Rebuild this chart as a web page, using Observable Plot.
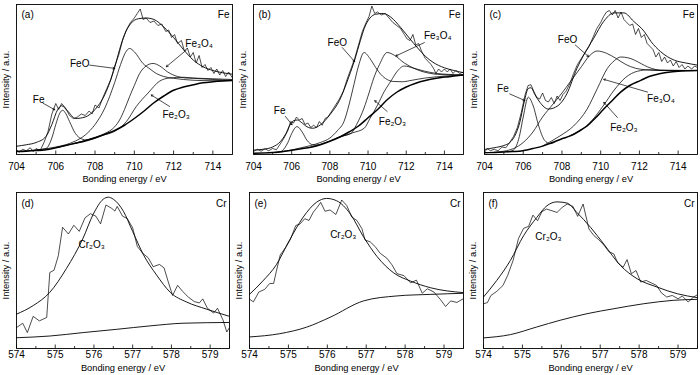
<!DOCTYPE html>
<html><head><meta charset="utf-8">
<script src="https://cdn.jsdelivr.net/npm/d3@7"></script>
<script src="https://cdn.jsdelivr.net/npm/@observablehq/plot@0.6"></script>
<style>
body{margin:0;background:#fff;}
#wrap{position:relative;width:700px;height:375px;overflow:hidden;background:#fff;}
#wrap svg{position:absolute;overflow:visible;}
</style></head><body><div id="wrap"></div>
<script>
// ---------- tick labels ----------
const feTicks = [704, 706, 708, 710, 712, 714];
const feMinor = [705, 707, 709, 711, 713];
const crTicks = [574, 575, 576, 577, 578, 579];
const crMinor = [574.5, 575.5, 576.5, 577.5, 578.5, 579.5];

// ---------- panel (a) Fe 2p ----------
const a_data = [[704,3],[704.15,1.5],[704.3,3.5],[704.5,2.5],[704.7,4.5],[704.85,2],[705,4],[705.2,2.5],[705.4,8],[705.6,15],[705.8,27],[706,34],[706.15,30],[706.3,34],[706.5,31],[706.7,26],[706.9,24],[707.1,25],[707.3,27],[707.5,26],[707.7,29],[707.85,27],[708,33],[708.2,31],[708.4,38],[708.6,44],[708.8,50],[709,59],[709.2,66],[709.4,76],[709.6,83],[709.8,88],[710,91],[710.15,94],[710.3,97],[710.45,90],[710.6,91],[710.8,88],[711,89],[711.2,86],[711.4,87],[711.6,82],[711.75,83],[711.9,78],[712.05,80],[712.2,74],[712.4,76],[712.55,69],[712.7,71],[712.85,65],[713,68],[713.15,61],[713.3,66],[713.45,58],[713.6,60],[713.75,56],[713.9,58],[714.05,54],[714.2,57],[714.35,53],[714.5,56],[714.65,52],[714.8,55],[715,51]];
const a_fit = [[704,5.5],[704.5,6.5],[705,8],[705.5,12],[705.8,20],[706.1,30],[706.3,32.5],[706.6,29],[707,24],[707.5,25],[708,30],[708.5,40],[709,58],[709.25,70],[709.5,80],[709.8,87],[710.2,90.5],[710.6,91],[711,90],[711.5,85],[712,78],[712.5,70],[713,63],[713.5,58.5],[714,56],[714.5,54.5],[715,53.5]];
const a_bg = [[704,2],[704.5,2.2],[705,2.6],[705.5,3.2],[706,4.5],[706.5,6],[707,7.5],[707.5,9],[708,11],[708.5,13.5],[709,16],[709.5,19.5],[710,24],[710.5,29],[711,34.5],[711.5,39],[712,42.8],[712.5,45],[713,46.5],[713.5,47.8],[714,48.5],[714.5,49],[715,49.3]];
const a_fe = [[705,3],[705.5,4],[705.8,11],[706,20],[706.2,27.5],[706.35,29.5],[706.5,27.5],[706.7,22],[707,14],[707.3,10.5],[707.6,9.6],[708,11]];
const a_feo = [[704,2.2],[705,3],[705.5,3.8],[706,5],[706.5,6.5],[707,9],[707.5,13],[708,20],[708.5,31],[709,48],[709.3,60],[709.55,68],[709.76,70.7],[710,68.5],[710.44,60.7],[710.8,57],[711.12,54],[711.5,52],[712,50.8],[712.5,50],[713,49.5],[714,49.2],[715,49.3]];
const a_fe3o4 = [[706,4.5],[707,7.6],[708,11.5],[708.5,14],[709,18.5],[709.25,23],[709.5,30],[709.76,38.6],[710,46],[710.27,54],[710.6,59],[710.95,60.7],[711.3,59],[711.7,55],[712.2,52],[712.6,51],[713,50.8],[714,50],[715,49.5]];
const a_fe2o3 = [[707,7.5],[708,11.2],[708.5,13.2],[708.9,14.8],[709.6,22],[710.1,32],[710.7,41],[711.3,49],[711.8,51],[712.5,51.5],[713,51],[714,50.5],[715,50]];
const a_labels = [{t:"Fe",x:705.13,y:36.4},{t:"FeO",x:707.22,y:60.7},{t:"Fe₃O₄",x:713.3,y:74},{t:"Fe₂O₃",x:712.13,y:26.5}];
const a_arrows = [[705.35,34.2,705.95,29.8],[707.73,59.6,709.0,57.4],[712.64,69.5,711.63,58.5],[711.8,32,710.86,39.7]];

// ---------- panel (b) Fe 2p ----------
const b_data = [[704,2],[704.2,3.5],[704.4,2.2],[704.6,3.8],[704.8,2.5],[705,4],[705.2,3.2],[705.4,7],[705.6,11],[705.8,16],[705.95,22],[706.1,21],[706.25,25],[706.4,23],[706.55,24],[706.7,20],[706.85,21],[707,18],[707.15,19.5],[707.3,18],[707.45,22],[707.6,19.5],[707.75,24],[707.9,25],[708.1,29],[708.3,33],[708.5,37],[708.7,42],[708.9,50],[709.1,57],[709.3,64],[709.5,73],[709.7,82],[709.9,88],[710.05,92],[710.2,99],[710.35,94],[710.5,95],[710.7,93],[710.9,94],[711.1,91],[711.3,88],[711.5,86],[711.7,84],[711.9,80],[712.05,77],[712.2,76],[712.35,80],[712.5,73],[712.65,74],[712.8,69],[713,64],[713.15,62],[713.3,60],[713.45,57],[713.55,54],[713.7,57],[713.85,55],[714,57],[714.15,55],[714.3,57],[714.45,54],[714.6,56],[714.8,54],[715,55]];
const b_fit = [[704,2.9],[704.5,3.5],[705,5],[705.4,8.5],[705.7,14],[705.9,19.5],[706.1,22.5],[706.3,23],[706.5,21.5],[706.8,18.5],[707.1,17.5],[707.5,19.7],[708,26.5],[708.5,36],[709,52],[709.3,63],[709.6,76],[709.8,84],[710.1,91],[710.4,93.5],[710.8,94],[711.2,91.5],[711.7,84.8],[712.2,77],[712.6,71],[713,65.5],[713.4,61.5],[714,57.8],[714.5,56],[715,54.5]];
const b_bg = [[704,0.8],[705,1.3],[705.5,1.8],[706,2.8],[706.5,3.8],[707,4.8],[707.5,6.5],[708,8.8],[708.5,11.5],[709,15],[709.5,19],[710,24.5],[710.5,30],[711,36.5],[711.5,41.5],[712,45],[712.5,47.5],[713,49.3],[713.5,50.6],[714,51.6],[714.5,52.3],[715,53]];
const b_fe = [[705.2,1.2],[705.5,2.5],[705.8,8],[706,14],[706.28,18.6],[706.55,15],[706.8,9.5],[707.1,6.5],[707.4,6.3]];
const b_feo = [[705,1.3],[706,3],[706.5,4.5],[707,6],[707.5,8],[708,11],[708.4,16],[708.74,22],[709,33],[709.26,46.6],[709.5,59],[709.79,68],[710.1,64],[710.4,58],[710.67,53.4],[711,50],[711.3,48.7],[711.8,48.5],[712.3,49.5],[713,51],[714,52.2],[715,53]];
const b_fe3o4 = [[707,5],[708,9],[708.5,11.8],[709.1,14],[709.4,20],[709.79,31],[710.05,41],[710.3,51],[710.6,60],[711,68],[711.4,66],[711.9,61],[712.4,57.5],[712.77,55.6],[713.2,54.2],[713.65,53.4],[714.5,53],[715,53]];
const b_fe2o3 = [[708.5,11.5],[709.2,14.5],[709.8,17.5],[710.1,24],[710.5,33],[710.85,42],[711.2,49],[711.5,55],[711.9,59],[712.4,57.5],[712.95,55.6],[713.5,54.2],[714.2,53.4],[715,53]];
const b_labels = [{t:"Fe",x:705.37,y:29.2},{t:"FeO",x:708.39,y:74.6},{t:"Fe₃O₄",x:713.65,y:79.2},{t:"Fe₂O₃",x:711.28,y:22}];
const b_arrows = [[705.67,25.4,706.02,19.8],[708.65,71.3,709.3,61.9],[712.95,74.6,711.46,65.7],[711.0,28.7,710.35,35.9]];

// ---------- panel (c) Fe 2p ----------
const c_data = [[704,1.5],[704.15,4],[704.3,2.5],[704.5,3.5],[704.7,2.5],[704.9,5],[705.1,4.5],[705.3,8],[705.5,12],[705.7,18],[705.9,28],[706.1,40],[706.25,46],[706.4,46.5],[706.55,42],[706.7,38],[706.85,37],[707,41],[707.15,36],[707.3,35],[707.45,38],[707.6,34],[707.75,39],[707.9,36],[708.05,40],[708.2,42],[708.4,47],[708.6,54],[708.8,60],[709,64],[709.2,68],[709.4,72],[709.6,78],[709.8,84],[710,88],[710.15,92],[710.3,95],[710.45,96],[710.6,93],[710.75,96],[710.9,91],[711.05,95],[711.2,90],[711.35,88],[711.5,86],[711.65,87],[711.8,80],[711.95,84],[712.1,78],[712.25,80],[712.4,74],[712.55,72],[712.7,70],[712.85,65],[713,68],[713.15,62],[713.3,65],[713.45,61],[713.6,63],[713.75,59],[713.9,62],[714.05,58],[714.2,60],[714.35,57],[714.5,59],[714.7,57],[714.85,59],[715,58]];
const c_fit = [[704,3.4],[704.5,4.5],[705,6],[705.3,7.9],[705.55,12],[705.82,21.3],[706.05,35],[706.26,44],[706.4,44.5],[706.6,40],[706.86,34.8],[707.3,30.3],[707.8,32.6],[708.25,40.4],[708.77,57.3],[709.12,66.3],[709.64,77.5],[710.16,88.8],[710.68,94.4],[711.2,94.4],[711.7,88.8],[712.25,82],[712.6,75.3],[713.1,68.5],[713.8,62.9],[714.4,61],[715,59.6]];
const c_bg = [[704,1.1],[704.5,1.4],[705,1.7],[705.5,2],[705.8,2.2],[706.5,4],[707,5.6],[707.5,8],[708,10.5],[708.43,12.4],[709,16.5],[709.3,19],[709.7,24],[710.16,30.3],[710.6,36],[711.03,41.6],[711.5,46],[712.07,49.4],[712.5,52],[713.1,54],[713.5,54.9],[714,55.5],[714.5,55.8],[715,56]];
const c_fe = [[705.2,1.8],[705.5,3],[705.8,12],[706,25],[706.26,38.2],[706.5,33],[706.8,19],[707.1,9.5],[707.4,7.2],[707.6,8]];
const c_feo = [[704.5,1.5],[705,2.2],[705.5,4],[706,8],[706.5,15],[707,25],[707.5,33],[708,41],[708.43,48.5],[709,58.5],[709.4,65.5],[709.82,69],[710.3,67.5],[710.8,64],[711.3,60],[711.8,57.5],[712.3,56.5],[713,56],[714,56],[715,56]];
const c_fe3o4 = [[707,5.7],[707.9,12.4],[708.6,19],[709.3,30.3],[709.82,43.8],[710.34,57.3],[710.7,62.5],[711.03,65],[711.4,64.5],[711.73,63],[712.1,60.5],[712.42,58.4],[712.8,56.8],[713.1,56],[714,55.8],[715,56]];
const c_fe2o3 = [[708.4,12.5],[709,16.5],[709.5,22],[710.16,33],[710.7,43],[711.3,51.5],[711.9,55.5],[712.5,56.5],[713.5,56.2],[715,56]];
const c_labels = [{t:"Fe",x:704.95,y:43.8},{t:"FeO",x:708.29,y:76.4},{t:"Fe₃O₄",x:713.11,y:37.1},{t:"Fe₂O₃",x:711.2,y:18}];
const c_arrows = [[705.3,40.4,706.08,36],[708.69,73,709.38,65.2],[712.42,41.6,710.16,50.1],[710.86,24.7,710.16,34.8]];

// ---------- panel (d) Cr 2p ----------
const d_data = [[574,13.4],[574.16,16.2],[574.28,10.2],[574.43,20.6],[574.59,17.7],[574.78,19.9],[574.86,48.7],[574.97,50.2],[575.08,59.5],[575.19,77.7],[575.34,73.4],[575.48,79],[575.62,75.1],[575.77,83.8],[575.91,86.4],[576.05,84.8],[576.17,79.9],[576.31,92],[576.46,89.8],[576.54,88.1],[576.6,91.1],[576.74,84.8],[576.86,83.3],[577,77.3],[577.12,65.4],[577.26,61],[577.4,58.2],[577.53,52.4],[577.69,53.9],[577.81,51.7],[577.92,42.6],[578.03,34],[578.16,40.5],[578.29,36.6],[578.44,32.9],[578.59,30.1],[578.72,29.2],[578.81,31.8],[578.93,25.8],[579.09,22.7],[579.19,25.8],[579.33,18.4],[579.43,10.6],[579.5,13.4]];
const d_fit = [[574,22],[574.43,27.5],[574.86,36],[575.29,51.3],[575.72,70.8],[575.98,86],[576.24,95.7],[576.37,97],[576.5,95.7],[576.76,88],[577,75],[577.28,60],[577.62,47],[577.97,36],[578.4,29.7],[578.9,25.3],[579.5,20.6]];
const d_bg = [[574,6.9],[574.86,8],[575.72,10.2],[576.59,12.3],[577.45,14.5],[578.3,16.2],[579.5,16.7]];
const d_labels = [{t:"Cr₂O₃",x:575.94,y:66.5}];

// ---------- panel (e) Cr 2p ----------
const e_data = [[574,31.6],[574.1,29.9],[574.24,36.2],[574.39,37.9],[574.52,41.7],[574.62,41.7],[574.69,49.5],[574.79,60],[574.93,64.8],[575.05,69.9],[575.19,78.9],[575.29,79.6],[575.42,83.2],[575.53,82.1],[575.64,87.4],[575.74,90.5],[575.83,93.7],[575.94,88],[576.07,88.8],[576.22,85.9],[576.37,95.2],[576.5,91.6],[576.63,84.2],[576.76,82.1],[576.89,76.8],[576.97,69.5],[577.1,68.4],[577.23,65.3],[577.36,61],[577.53,57.9],[577.66,53.7],[577.79,48],[577.97,46.7],[578.14,42.1],[578.29,43.8],[578.44,35.4],[578.57,38.3],[578.74,36.2],[578.9,31.6],[579.04,26.9],[579.17,30.5],[579.33,29.5],[579.5,32]];
const e_fit = [[574,34.7],[574.34,43.2],[574.69,53.7],[575.03,69.5],[575.38,84.2],[575.72,93.7],[575.98,96.2],[576.24,94.7],[576.59,86.3],[576.93,71.6],[577.28,58.9],[577.71,48.4],[578.14,43.2],[578.66,38.9],[579.5,35.8]];
const e_bg = [[574,7.4],[574.78,9.5],[575.47,13.7],[576.07,20],[576.93,30.5],[577.79,33.7],[578.66,34.7],[579.5,35.4]];
const e_labels = [{t:"Cr₂O₃",x:576.41,y:72.6}];

// ---------- panel (f) Cr 2p ----------
const f_data = [[574,28.7],[574.1,29.4],[574.19,34],[574.34,36.6],[574.5,40.4],[574.62,46.8],[574.76,56.4],[574.9,70.6],[575.03,77],[575.16,78.3],[575.27,85.5],[575.39,81.9],[575.5,87.7],[575.62,89.4],[575.76,88.3],[575.89,87.2],[576.02,90.4],[576.15,92.6],[576.3,91.1],[576.42,84.7],[576.56,92.6],[576.71,76.6],[576.84,72.3],[576.96,69.8],[577.09,66.4],[577.22,62.1],[577.35,60.6],[577.45,54.9],[577.59,52.1],[577.69,57],[577.8,47.9],[577.92,50],[578.04,42.6],[578.18,43.6],[578.31,42.1],[578.45,40.4],[578.57,35.7],[578.71,33],[578.85,34],[579,31.9],[579.11,33.6],[579.26,29.8],[579.4,33],[579.5,34.5]];
const f_fit = [[574,33],[574.34,43.6],[574.69,56.4],[575.03,72.3],[575.37,84],[575.63,91.5],[575.89,94],[576.15,93.2],[576.4,87.2],[576.75,77.7],[577.09,67],[577.52,53.2],[577.95,44.7],[578.46,39.4],[578.98,35.1],[579.5,32.6]];
const f_bg = [[574,6.8],[574.69,8.9],[575.37,13.8],[575.97,18.1],[576.66,22.3],[577.35,25.5],[578.12,28.7],[578.89,30.9],[579.5,31.5]];
const f_labels = [{t:"Cr₂O₃",x:575.67,y:71.3}];

// ---------- drawing ----------
const FONT = "'Liberation Sans', Arial, Helvetica, sans-serif";
const wrap = document.getElementById("wrap");

function drawPanel(p) {
  const ml = 24, mr = 6, mt = 6, mb = 40;
  const iw = p.x1 - p.x0, ih = p.y1 - p.y0;
  const L = (d) => d[0], Y = (d) => d[1];
  const marks = [];
  const thin = {x: L, y: Y, stroke: "#000", strokeWidth: 0.75, curve: "monotone-x", clip: true};
  for (const s of p.comps) marks.push(Plot.line(s, thin));
  marks.push(Plot.line(p.bg, {...thin, strokeWidth: p.bgWidth}));
  marks.push(Plot.line(p.fit, {...thin, strokeWidth: 0.9}));
  marks.push(Plot.line(p.data, {x: L, y: Y, stroke: "#000", strokeWidth: 0.7, clip: true}));
  if (p.arrows) marks.push(Plot.arrow(p.arrows, {x1: d => d[0], y1: d => d[1], x2: d => d[2], y2: d => d[3], stroke: "#000", strokeWidth: 0.7, headLength: 4}));
  marks.push(Plot.text(p.labels, {x: "x", y: "y", text: "t", fontSize: p.labelSize, fill: "#000"}));
  marks.push(Plot.frame({stroke: "#000", strokeWidth: 0.9}));
  marks.push(Plot.ruleX(p.major, {x: d => d, insetTop: ih - 3.5, stroke: "#000", strokeWidth: 0.8}));
  marks.push(Plot.ruleX(p.minor, {x: d => d, insetTop: ih - 2, stroke: "#000", strokeWidth: 0.8}));
  marks.push(Plot.axisX({ticks: p.major, tickSize: 0, tickPadding: p.pad, fontSize: 10, label: null, tickFormat: d => String(d)}));
  marks.push(Plot.text(["Bonding energy / eV"], {text: d => d, frameAnchor: "bottom", dy: p.title, lineAnchor: "middle", fontSize: 9.3}));
  marks.push(Plot.text(["Intensity / a.u."], {text: d => d, frameAnchor: "left", dx: -10, rotate: -90, textAnchor: "middle", lineAnchor: "middle", fontSize: 9.3}));
  marks.push(Plot.text([`(${p.id})`], {text: d => d, frameAnchor: "top-left", dx: 5, dy: p.cornerDy, textAnchor: "start", lineAnchor: "middle", fontSize: 10}));
  marks.push(Plot.text([p.elem], {text: d => d, frameAnchor: "top-right", dx: -3, dy: p.cornerDy, textAnchor: "end", lineAnchor: "middle", fontSize: 10}));
  const svg = Plot.plot({
    width: iw + ml + mr, height: ih + mt + mb,
    marginLeft: ml, marginRight: mr, marginTop: mt, marginBottom: mb,
    x: {domain: p.dom},
    y: {domain: [0, 100], axis: null},
    style: {fontFamily: FONT, color: "#000", background: "transparent", overflow: "visible"},
    marks
  });
  svg.style.left = (p.x0 - ml) + "px";
  svg.style.top = (p.y0 - mt) + "px";
  wrap.appendChild(svg);
}

const feDom = [704, 715], crDom = [574, 579.5];
const topRow = {y0: 4, y1: 154, pad: 8, title: 25, cornerDy: 10, major: feTicks, minor: feMinor, dom: feDom, elem: "Fe", labelSize: 10, bgWidth: 1.5};
const botRow = {y0: 192, y1: 348, pad: 2.5, title: 20, cornerDy: 11, major: crTicks, minor: crMinor, dom: crDom, elem: "Cr", labelSize: 10, bgWidth: 0.9};

drawPanel({...topRow, id: "a", x0: 16, x1: 232, data: a_data, fit: a_fit, bg: a_bg, comps: [a_fe, a_feo, a_fe3o4, a_fe2o3], labels: a_labels, arrows: a_arrows});
drawPanel({...topRow, id: "b", x0: 253, x1: 463, data: b_data, fit: b_fit, bg: b_bg, comps: [b_fe, b_feo, b_fe3o4, b_fe2o3], labels: b_labels, arrows: b_arrows});
drawPanel({...topRow, id: "c", x0: 484, x1: 697, data: c_data, fit: c_fit, bg: c_bg, comps: [c_fe, c_feo, c_fe3o4, c_fe2o3], labels: c_labels, arrows: c_arrows});
drawPanel({...botRow, id: "d", x0: 16, x1: 229, data: d_data, fit: d_fit, bg: d_bg, comps: [], labels: d_labels});
drawPanel({...botRow, id: "e", x0: 249, x1: 463, data: e_data, fit: e_fit, bg: e_bg, comps: [], labels: e_labels});
drawPanel({...botRow, id: "f", x0: 483, x1: 697, data: f_data, fit: f_fit, bg: f_bg, comps: [], labels: f_labels});
</script>
</body></html>
